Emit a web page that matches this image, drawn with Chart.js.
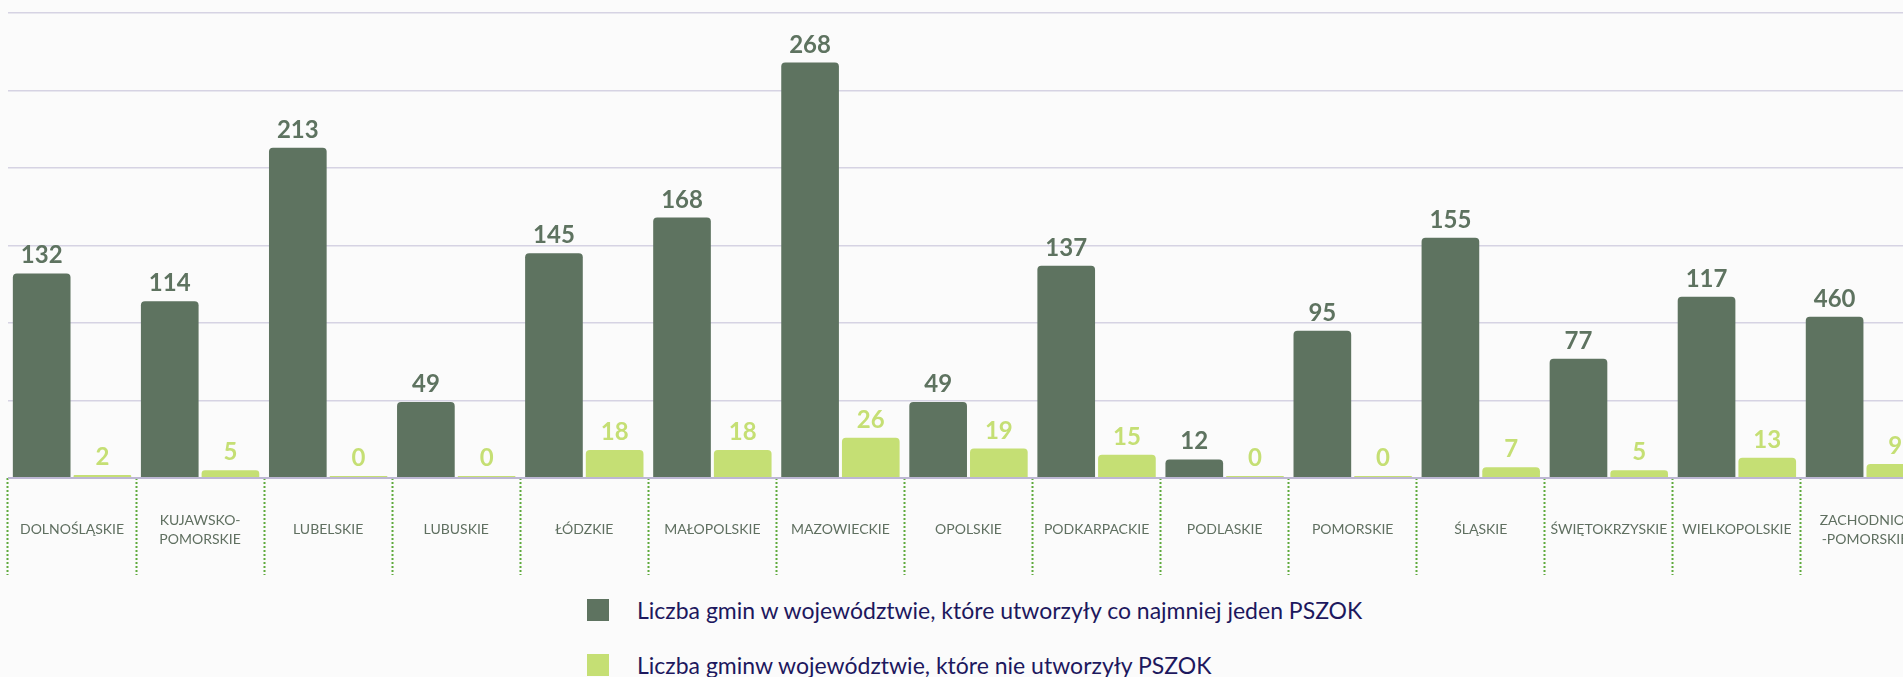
<!DOCTYPE html>
<html>
<head>
<meta charset="utf-8">
<script src="https://cdn.jsdelivr.net/npm/chart.js@4.4.1/dist/chart.umd.min.js"></script>
<style>
  html, body { margin: 0; padding: 0; background: #fbfbfb; overflow: hidden; width: 1903px; height: 677px; }
  #wrap { position: absolute; left: 0; top: 0; width: 1930px; height: 578px; }
  #legend { position: absolute; left: 587px; top: 596px; font-family: Lato, "Open Sans", sans-serif; font-size: 23px; color: #1d185e; }
  .item { display: flex; align-items: center; height: 28px; margin-bottom: 27px; white-space: nowrap; }
  .sw { width: 22px; height: 22px; margin-right: 28px; flex: none; }
</style>
</head>
<body>
<div id="wrap"><canvas id="c" width="1930" height="578"></canvas></div>
<div id="legend"></div>
<script>
const categories = [
  'DOLNOŚLĄSKIE', ['KUJAWSKO-', 'POMORSKIE'], 'LUBELSKIE', 'LUBUSKIE', 'ŁÓDZKIE',
  'MAŁOPOLSKIE', 'MAZOWIECKIE', 'OPOLSKIE', 'PODKARPACKIE', 'PODLASKIE',
  'POMORSKIE', 'ŚLĄSKIE', 'ŚWIĘTOKRZYSKIE', 'WIELKOPOLSKIE', ['ZACHODNIO-', '-POMORSKIE']
];
const seriesNames = [
  'Liczba gmin w województwie, które utworzyły co najmniej jeden PSZOK',
  'Liczba gminw województwie, które nie utworzyły PSZOK'
];
const withPszok = [132, 114, 213, 49, 145, 168, 268, 49, 137, 12, 95, 155, 77, 117, 104];
const withPszokLabels = ['132', '114', '213', '49', '145', '168', '268', '49', '137', '12', '95', '155', '77', '117', '460'];
const withoutPszok = [2, 5, 0, 0, 18, 18, 26, 19, 15, 0, 0, 7, 5, 13, 9];
const withoutPszokLabels = ['2', '5', '0', '0', '18', '18', '26', '19', '15', '0', '0', '7', '5', '13', '9'];
const yTicks = [0, 50, 100, 150, 200, 250, 300];

const DARK = '#5e7360';
const LIGHT = '#c5df74';

const valueLabels = {
  id: 'valueLabels',
  afterDatasetsDraw(chart) {
    const ctx = chart.ctx;
    ctx.save();
    ctx.font = 'bold 24px Lato, "Open Sans", sans-serif';
    ctx.textAlign = 'center';
    ctx.textBaseline = 'alphabetic';
    chart.data.datasets.forEach((ds, di) => {
      const meta = chart.getDatasetMeta(di);
      ctx.fillStyle = ds.backgroundColor;
      meta.data.forEach((el, i) => {
        ctx.fillText(ds.valueLabels[i], el.x, el.y - 10);
      });
    });
    ctx.restore();
  }
};

const chart = new Chart(document.getElementById('c'), {
  type: 'bar',
  data: {
    labels: categories,
    datasets: [
      { label: seriesNames[0], data: withPszok, valueLabels: withPszokLabels, backgroundColor: DARK,
        borderRadius: 4, borderSkipped: 'bottom', categoryPercentage: 0.948, barPercentage: 0.95 },
      { label: seriesNames[1], data: withoutPszok, valueLabels: withoutPszokLabels, backgroundColor: LIGHT,
        borderRadius: 4, borderSkipped: 'bottom', categoryPercentage: 0.948, barPercentage: 0.95, minBarLength: 2 }
    ]
  },
  options: {
    responsive: false,
    animation: false,
    devicePixelRatio: 1,
    layout: { padding: { top: 13, left: 8, right: 1, bottom: 0 } },
    plugins: { legend: { display: false }, tooltip: { enabled: false } },
    scales: {
      x: {
        grid: { display: true, drawOnChartArea: false, drawTicks: true, offset: true, tickLength: 97,
                tickColor: '#5faa3c', tickWidth: 2, tickBorderDash: [2, 2] },
        border: { display: false },
        ticks: { padding: -55, crossAlign: 'center', autoSkip: false, maxRotation: 0, minRotation: 0,
                 color: '#5f6f60', font: { family: 'Lato, "Open Sans", sans-serif', size: 14, lineHeight: 1.36 } },
        afterFit(s) { s.height = 100; }
      },
      y: {
        min: yTicks[0], max: yTicks[yTicks.length - 1],
        afterBuildTicks(s) { s.ticks = yTicks.map(v => ({ value: v })); },
        ticks: { display: false },
        border: { display: false },
        grid: { drawTicks: false, lineWidth: ctx => ctx.tick && ctx.tick.value === 0 ? 2 : 1.5,
                color: ctx => ctx.tick && ctx.tick.value === 0 ? '#bdb7d4' : '#d6d3e3' }
      }
    }
  },
  plugins: [valueLabels]
});

const legend = document.getElementById('legend');
chart.data.datasets.forEach(ds => {
  const item = document.createElement('div');
  item.className = 'item';
  const sw = document.createElement('span');
  sw.className = 'sw';
  sw.style.background = ds.backgroundColor;
  const tx = document.createElement('span');
  tx.textContent = ds.label;
  item.appendChild(sw);
  item.appendChild(tx);
  legend.appendChild(item);
});
</script>
</body>
</html>
